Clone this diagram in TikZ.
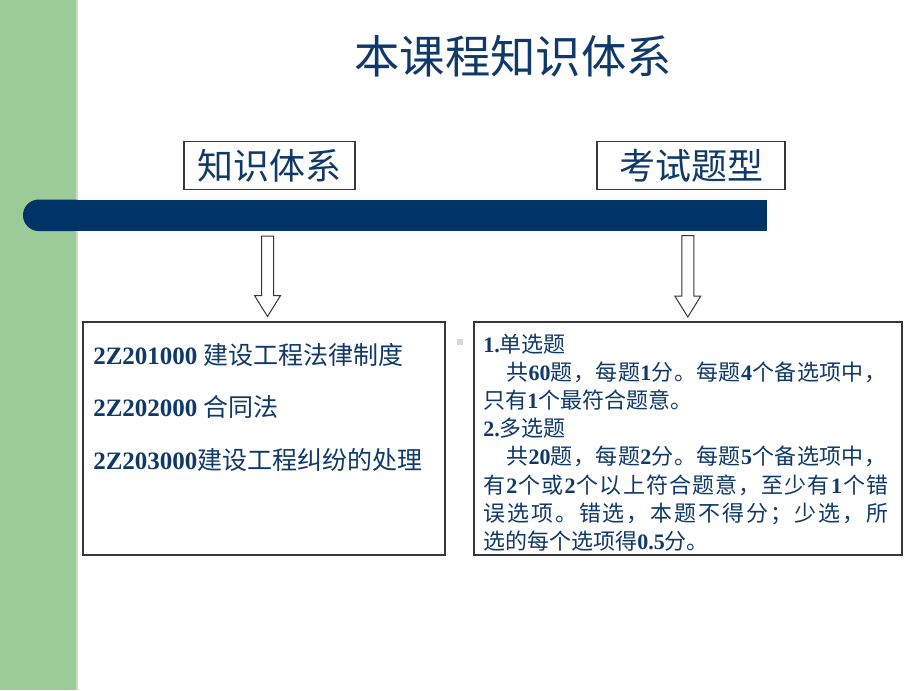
\documentclass[tikz,border=0pt]{standalone}
\usepackage{fontspec}
\setmainfont{Liberation Serif}
\newfontfamily\cjk{Noto Sans CJK SC}
\usetikzlibrary{calc}
\definecolor{sidegreen}{RGB}{155,204,152}
\definecolor{sideline}{RGB}{196,226,192}
\definecolor{barblue}{RGB}{0,51,102}
\definecolor{txtblue}{RGB}{14,57,105}
\definecolor{boxline}{RGB}{55,55,55}
\definecolor{dotgray}{RGB}{215,215,215}
\newcommand\B[1]{{\rmfamily\bfseries #1}}
\newcommand\blockarrow[2]{%
  \draw[barrow] ($(#1)+(-6,0)$) -- ($(#2)+(-6,-21)$) -- ($(#2)+(-13,-21)$) -- (#2)
    -- ($(#2)+(13,-21)$) -- ($(#2)+(6,-21)$) -- ($(#1)+(6,0)$) -- cycle;}
\begin{document}
\begin{tikzpicture}[x=0.75pt,y=-0.75pt,
  titletext/.style={font=\cjk\fontsize{34pt}{40pt}\selectfont, text=txtblue, inner sep=0pt},
  headbox/.style={draw=boxline, line width=0.9pt, minimum height=36pt, inner sep=0pt,
    font=\cjk\fontsize{27pt}{30pt}\selectfont, text=txtblue},
  listbox/.style={draw=boxline, line width=0.9pt, minimum height=174.75pt, inner sep=0pt},
  ltext/.style={anchor=base west, inner sep=0pt, font=\cjk\fontsize{18.75pt}{22pt}\selectfont, text=txtblue},
  rtext/.style={anchor=base west, inner sep=0pt, font=\cjk\fontsize{16.5pt}{20pt}\selectfont, text=txtblue},
  barrow/.style={draw=boxline, line width=0.75pt, fill=white, line join=miter}]

\useasboundingbox (0,0) rectangle (920,690);
\fill[white] (0,0) rectangle (920,690);
\fill[sidegreen] (0,0) rectangle (76,690);
\fill[sideline] (76,0) rectangle (77.5,690);

\node[titletext] (title) at (513,56) {本课程知识体系};

\node[headbox, minimum width=128.25pt] (kb) at (269.5,165.5) {知识体系};
\node[headbox, minimum width=141pt] (qt) at (691,165.5) {考试题型};

% bar
\fill[barblue, rounded corners=11.8pt] (23,199.5) rectangle (90,231);
\fill[barblue] (60,199.5) rectangle (767,231);

% lower boxes
\node[listbox, minimum width=271.5pt] (lbox) at (264,438.5) {};
\node[listbox, minimum width=321pt] (rbox) at (688,438.5) {};

% arrows
\coordinate (a1s) at (267.5,236);
\coordinate (a1e) at (267.5,316.5);
\coordinate (a2s) at (687.8,235.5);
\coordinate (a2e) at (687.8,317);
\blockarrow{a1s}{a1e}
\blockarrow{a2s}{a2e}

% stray bullet
\fill[dotgray] (457,339) rectangle (463,345);

% left texts
\node[ltext] (l1) at (93,364) {\B{2Z201000} 建设工程法律制度};
\node[ltext] (l2) at (93,416) {\B{2Z202000} 合同法};
\node[ltext] (l3) at (93,469) {\B{2Z203000}{}建设工程纠纷的处理};

% right texts
\node[rtext] (r1) at (483,352) {\B{1.}{}单选题};
\node[rtext] (r2) at (506,380.2) {\makebox[285pt][s]{共\hfil \B{60}\hfil 题\hfil ，\hfil 每\hfil 题\hfil \B{1}\hfil 分\hfil 。\hfil 每\hfil 题\hfil \B{4}\hfil 个\hfil 备\hfil 选\hfil 项\hfil 中\hfil ，}};
\node[rtext] (r3) at (483,408.4) {只有\B{1}{}个最符合题意。};
\node[rtext] (r4) at (483,436.6) {\B{2.}{}多选题};
\node[rtext] (r5) at (506,464.8) {\makebox[285pt][s]{共\hfil \B{20}\hfil 题\hfil ，\hfil 每\hfil 题\hfil \B{2}\hfil 分\hfil 。\hfil 每\hfil 题\hfil \B{5}\hfil 个\hfil 备\hfil 选\hfil 项\hfil 中\hfil ，}};
\node[rtext] (r6) at (483,493) {\makebox[303.75pt][s]{有\hfil \B{2}\hfil 个\hfil 或\hfil \B{2}\hfil 个\hfil 以\hfil 上\hfil 符\hfil 合\hfil 题\hfil 意\hfil ，\hfil 至\hfil 少\hfil 有\hfil \B{1}\hfil 个\hfil 错}};
\node[rtext] (r7) at (483,521.2) {\makebox[303.75pt][s]{误\hfil 选\hfil 项\hfil 。\hfil 错\hfil 选\hfil ，\hfil 本\hfil 题\hfil 不\hfil 得\hfil 分\hfil ；\hfil 少\hfil 选\hfil ，\hfil 所}};
\node[rtext] (r8) at (483,549.4) {选的每个选项得\B{0.5}{}分。};
\end{tikzpicture}
\end{document}
